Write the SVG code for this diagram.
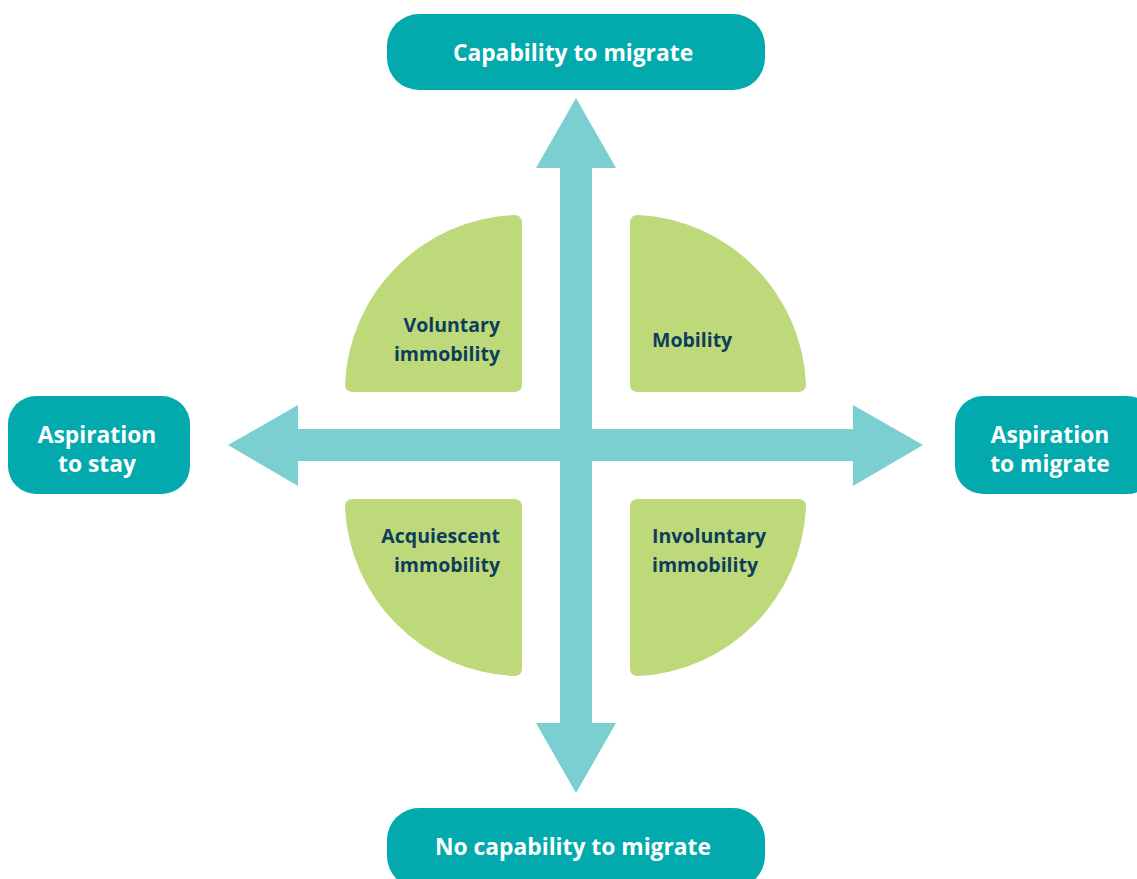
<svg xmlns="http://www.w3.org/2000/svg" width="1137" height="879" viewBox="0 0 1137 879">
<style>
.box{fill:#02AAAD}
.arr{fill:#7BCFD0}
.q{fill:#BDD97A}
.bt{font-family:"Open Sans","Liberation Sans",sans-serif;font-weight:700;font-size:22.8px;fill:#FFFFFF;text-anchor:middle}
.qt{font-family:"Open Sans","Liberation Sans",sans-serif;font-weight:700;font-size:19.5px;fill:#0E3D5B}
.r{text-anchor:end}
</style>
<rect width="1137" height="879" fill="#FFFFFF"/>
<g id="connectors">
<path class="arr" d="M576,98 L616,168 L592,168 L592,429 L853,429 L853,405 L923,445 L853,486 L853,461 L592,461 L592,723 L616,723 L576,793 L536,723 L560,723 L560,461 L298,461 L298,486 L228,445 L298,405 L298,429 L560,429 L560,168 L536,168 Z"/>
</g>
<g id="top">
<rect class="box" x="387" y="14" width="378" height="76" rx="32"/>
<text class="bt" x="573" y="61">Capability to migrate</text>
</g>
<g id="bottom">
<rect class="box" x="387" y="808" width="378" height="80" rx="32"/>
<text class="bt" x="573" y="855">No capability to migrate</text>
</g>
<g id="left">
<rect class="box" x="8" y="396" width="182" height="98" rx="28"/>
<text class="bt" x="97" y="443">Aspiration</text>
<text class="bt" x="97" y="472">to stay</text>
</g>
<g id="right">
<rect class="box" x="955" y="396" width="200" height="98" rx="28"/>
<text class="bt" x="1050" y="443">Aspiration</text>
<text class="bt" x="1050" y="472">to migrate</text>
</g>
<g id="q-tl">
<path class="q" d="M345,384 A177,177 0 0 1 514,215 L514,215 Q522,215 522,223 L522,384 Q522,392 514,392 L353,392 Q345,392 345,384 Z"/>
<text class="qt r" x="500" y="332">Voluntary</text>
<text class="qt r" x="500" y="361">immobility</text>
</g>
<g id="q-tr">
<path class="q" d="M638,215 A177,177 0 0 1 806,384 Q806,392 798,392 L638,392 Q630,392 630,384 L630,223 Q630,215 638,215 Z"/>
<text class="qt" x="652" y="347">Mobility</text>
</g>
<g id="q-bl">
<path class="q" d="M353,499 L514,499 Q522,499 522,507 L522,668 Q522,676 514,676 A177,177 0 0 1 345,507 Q345,499 353,499 Z"/>
<text class="qt r" x="500" y="543">Acquiescent</text>
<text class="qt r" x="500" y="572">immobility</text>
</g>
<g id="q-br">
<path class="q" d="M638,499 L798,499 Q806,499 806,507 A177,177 0 0 1 638,676 Q630,676 630,668 L630,507 Q630,499 638,499 Z"/>
<text class="qt" x="652" y="543">Involuntary</text>
<text class="qt" x="652" y="572">immobility</text>
</g>
</svg>
